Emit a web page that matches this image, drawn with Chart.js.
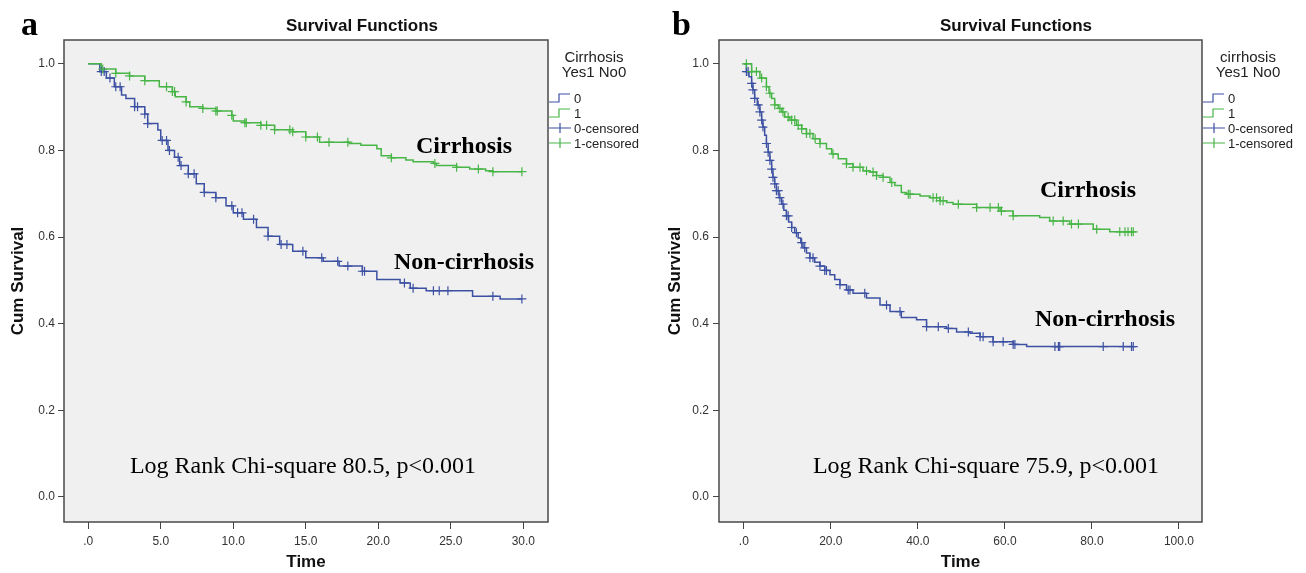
<!DOCTYPE html>
<html>
<head>
<meta charset="utf-8">
<script src="https://cdn.jsdelivr.net/npm/chart.js@4"></script>
<style>
  html, body { margin: 0; padding: 0; background: #fff; }
  #wrap { position: relative; width: 1306px; height: 573px; }
  canvas { position: absolute; top: 0; }
  #chartA { left: 0; }
  #chartB { left: 653px; }
</style>
</head>
<body>
<div id="wrap">
  <canvas id="chartA" width="653" height="573"></canvas>
  <canvas id="chartB" width="653" height="573"></canvas>
</div>
<script>
// ---- panel a (time up to 30) ----
const aCirTime = [0, 0.9, 1.9, 2.85, 3.9, 4.9, 5.8, 6.0, 6.75, 7.0, 7.9, 8.8, 9.9, 10.0, 10.8, 11.9, 12.85, 14.1, 15.0, 15.95, 18.0, 18.8, 19.9, 20.2, 20.9, 21.9, 22.4, 23.8, 24.0, 25.4, 26.3, 27.4, 27.9, 29.9];
const aCirSurv = [1.0, 0.988, 0.978, 0.972, 0.961, 0.947, 0.936, 0.924, 0.912, 0.901, 0.897, 0.891, 0.881, 0.868, 0.864, 0.858, 0.848, 0.843, 0.831, 0.819, 0.816, 0.812, 0.804, 0.788, 0.783, 0.778, 0.774, 0.770, 0.765, 0.761, 0.757, 0.753, 0.751, 0.751];
const aNonTime = [0, 0.8, 1.25, 1.8, 2.3, 2.6, 3.2, 3.9, 4.1, 4.8, 5.0, 5.5, 5.95, 6.3, 6.9, 7.45, 8.0, 8.8, 9.5, 10.0, 10.7, 11.6, 12.4, 13.2, 14.1, 15.0, 16.2, 17.3, 18.9, 19.9, 21.5, 22.2, 23.3, 26.5, 28.4, 29.9];
const aNonSurv = [1.0, 0.982, 0.967, 0.947, 0.928, 0.920, 0.901, 0.884, 0.862, 0.847, 0.823, 0.800, 0.784, 0.765, 0.746, 0.723, 0.703, 0.691, 0.672, 0.656, 0.641, 0.622, 0.602, 0.583, 0.567, 0.552, 0.544, 0.533, 0.521, 0.502, 0.494, 0.482, 0.476, 0.463, 0.457, 0.457];
const aCirCensored = [1.0, 1.9, 2.85, 3.9, 5.4, 5.8, 5.95, 6.75, 7.9, 8.8, 8.9, 9.9, 10.8, 10.9, 11.9, 12.3, 12.85, 13.9, 14.1, 15.0, 15.8, 16.6, 17.9, 20.9, 23.9, 25.4, 26.9, 27.9, 29.9];
const aNonCensored = [0.9, 1.1, 1.5, 1.9, 2.2, 3.2, 3.4, 3.9, 4.1, 5.1, 5.4, 5.6, 6.2, 6.4, 6.9, 7.3, 8.0, 8.8, 9.9, 10.3, 10.6, 11.4, 12.4, 13.3, 13.7, 14.8, 16.1, 17.2, 17.9, 18.9, 19.05, 21.8, 22.4, 23.8, 24.2, 24.8, 27.9, 29.9];

// ---- panel b (time up to 90) ----
const bCirTime = [0, 1.8, 3.7, 5.2, 5.8, 6.4, 7.1, 7.9, 8.7, 9.4, 10.6, 12.1, 13.3, 14.4, 15.9, 17.5, 19.0, 20.2, 21.7, 23.6, 25.1, 27.4, 29.0, 30.5, 32.0, 33.6, 34.7, 36.2, 37.4, 40.5, 42.8, 45.1, 46.6, 48.1, 53.5, 58.9, 61.9, 68.0, 70.3, 74.9, 80.3, 84.1, 89.5];
const bCirSurv = [1.0, 0.982, 0.967, 0.947, 0.932, 0.920, 0.905, 0.897, 0.889, 0.877, 0.870, 0.858, 0.850, 0.839, 0.827, 0.816, 0.804, 0.792, 0.781, 0.769, 0.761, 0.753, 0.750, 0.742, 0.738, 0.726, 0.719, 0.703, 0.699, 0.695, 0.691, 0.684, 0.680, 0.676, 0.668, 0.660, 0.649, 0.645, 0.637, 0.630, 0.618, 0.612, 0.612];
const bNonTime = [0, 0.6, 1.2, 1.8, 2.1, 2.5, 3.1, 3.7, 4.1, 4.4, 4.8, 5.2, 5.6, 6.0, 6.4, 6.7, 7.1, 7.5, 8.1, 8.7, 9.2, 9.8, 10.3, 11.0, 11.7, 12.5, 13.1, 13.6, 14.4, 15.2, 16.3, 17.5, 18.6, 19.8, 20.9, 22.1, 23.6, 25.1, 28.2, 31.3, 33.6, 36.2, 39.7, 42.0, 46.6, 48.9, 52.0, 54.3, 57.3, 61.9, 65.0, 89.5];
const bNonSurv = [1.0, 0.982, 0.970, 0.955, 0.940, 0.920, 0.905, 0.889, 0.870, 0.854, 0.835, 0.816, 0.796, 0.777, 0.757, 0.738, 0.723, 0.707, 0.691, 0.676, 0.662, 0.649, 0.635, 0.622, 0.610, 0.598, 0.587, 0.575, 0.563, 0.552, 0.542, 0.533, 0.523, 0.513, 0.502, 0.490, 0.478, 0.470, 0.459, 0.443, 0.428, 0.414, 0.409, 0.393, 0.389, 0.381, 0.378, 0.370, 0.358, 0.352, 0.347, 0.347];
const bCirCensored = [0.6, 1.8, 2.9, 4.1, 5.2, 6.0, 7.1, 8.3, 9.0, 10.2, 11.0, 11.7, 12.5, 13.3, 14.4, 15.2, 16.4, 17.5, 20.5, 23.6, 25.1, 26.7, 28.2, 29.7, 30.5, 32.0, 34.0, 37.8, 38.2, 43.5, 44.3, 45.1, 45.8, 49.3, 53.5, 56.6, 58.5, 59.2, 61.9, 71.1, 73.4, 75.3, 76.9, 81.1, 86.4, 87.6, 88.3, 89.1, 89.5];
const bNonCensored = [0.6, 1.0, 1.8, 2.1, 2.5, 3.3, 3.7, 4.1, 4.4, 5.2, 5.6, 6.0, 6.4, 6.7, 7.1, 7.5, 7.9, 8.3, 9.0, 9.8, 10.2, 11.0, 12.1, 13.3, 14.0, 15.2, 15.9, 17.5, 18.6, 19.0, 22.1, 24.0, 24.4, 27.8, 32.8, 35.9, 42.0, 44.7, 47.0, 51.6, 54.3, 55.0, 57.3, 59.6, 61.9, 62.3, 71.5, 72.3, 72.6, 82.6, 87.2, 89.1, 89.5];

// ---- ticks / labels ----
const xTicksA = [0, 5, 10, 15, 20, 25, 30];
const xLabelsA = ['.0', '5.0', '10.0', '15.0', '20.0', '25.0', '30.0'];
const xTicksB = [0, 20, 40, 60, 80, 100];
const xLabelsB = ['.0', '20.0', '40.0', '60.0', '80.0', '100.0'];
const yTicks = [0, 0.2, 0.4, 0.6, 0.8, 1.0];
const yLabels = ['0.0', '0.2', '0.4', '0.6', '0.8', '1.0'];
const legendItems = ['0', '1', '0-censored', '1-censored'];

const BLUE = '#3d51a3';
const GREEN = '#48b547';
const SANS = '"Liberation Sans", Arial, sans-serif';
const SERIF = '"Liberation Serif", "Times New Roman", serif';

// value of the KM step curve at time t (censor marks sit on the curve)
function survAt(times, surv, t) {
  let s = surv[0];
  for (let i = 0; i < times.length; i++) {
    if (times[i] <= t) s = surv[i];
  }
  return s;
}
const curve = (times, surv) => times.map((t, i) => ({ x: t, y: surv[i] }));
const marks = (cens, times, surv) => cens.map(t => ({ x: t, y: survAt(times, surv, t) }));

const panelPlugin = {
  id: 'panel',
  beforeDraw(chart) {
    const { ctx, chartArea: a } = chart;
    ctx.save();
    ctx.fillStyle = '#fff';
    ctx.fillRect(0, 0, chart.width, chart.height);
    ctx.fillStyle = '#f0f0f0';
    ctx.fillRect(a.left, a.top, a.right - a.left, a.bottom - a.top);
    ctx.strokeStyle = '#4a4a4a';
    ctx.lineWidth = 1.5;
    ctx.strokeRect(a.left, a.top, a.right - a.left, a.bottom - a.top);
    ctx.restore();
  },
  afterDraw(chart, args, opts) {
    const { ctx, chartArea: a } = chart;
    ctx.save();
    ctx.fillStyle = '#000';
    ctx.textBaseline = 'alphabetic';
    ctx.textAlign = 'left';
    ctx.font = 'bold 34px ' + SERIF;
    ctx.fillText(opts.letter, opts.letterX, 35);

    ctx.textAlign = 'center';
    ctx.textBaseline = 'middle';
    ctx.fillStyle = '#111';
    ctx.font = 'bold 17px ' + SANS;
    ctx.fillText('Survival Functions', opts.titleX, 26);

    // legend
    const lx = a.right + 1;
    ctx.fillStyle = '#222';
    ctx.font = '15px ' + SANS;
    ctx.fillText(opts.legendTitle, a.right + 46, 58);
    ctx.fillText('Yes1 No0', a.right + 46, 73);
    const rows = [98, 113, 128, 143];
    const cols = [BLUE, GREEN, BLUE, GREEN];
    ctx.lineWidth = 1.2;
    rows.forEach((y, i) => {
      ctx.strokeStyle = cols[i];
      ctx.beginPath();
      if (i < 2) {
        ctx.moveTo(lx, y + 4);
        ctx.lineTo(lx + 10, y + 4);
        ctx.lineTo(lx + 10, y - 4);
        ctx.lineTo(lx + 21, y - 4);
      } else {
        ctx.moveTo(lx, y);
        ctx.lineTo(lx + 22, y);
        ctx.moveTo(lx + 11, y - 5);
        ctx.lineTo(lx + 11, y + 5);
      }
      ctx.stroke();
    });
    ctx.fillStyle = '#222';
    ctx.textAlign = 'left';
    ctx.font = '13px ' + SANS;
    legendItems.forEach((t, i) => ctx.fillText(t, lx + 25, rows[i] + 1));

    // annotations inside the plot
    ctx.fillStyle = '#000';
    ctx.textAlign = 'center';
    opts.notes.forEach(n => {
      ctx.font = n.font;
      ctx.fillText(n.text, n.x, n.y);
    });
    ctx.restore();
  }
};

function makeChart(id, cfg) {
  const tickFont = { family: SANS, size: 12 };
  const titleFont = { family: SANS, size: 17, weight: 'bold' };
  return new Chart(document.getElementById(id), {
    type: 'line',
    data: {
      datasets: [
        { label: '1-censored', data: marks(cfg.cirCens, cfg.cirTime, cfg.cirSurv), showLine: false,
          pointStyle: 'cross', pointRadius: 4.5, borderColor: GREEN, borderWidth: 1.2 },
        { label: '0-censored', data: marks(cfg.nonCens, cfg.nonTime, cfg.nonSurv), showLine: false,
          pointStyle: 'cross', pointRadius: 4.5, borderColor: BLUE, borderWidth: 1.2 },
        { label: '1', data: curve(cfg.cirTime, cfg.cirSurv), stepped: true, pointRadius: 0,
          borderColor: GREEN, borderWidth: 1.5, fill: false },
        { label: '0', data: curve(cfg.nonTime, cfg.nonSurv), stepped: true, pointRadius: 0,
          borderColor: BLUE, borderWidth: 1.5, fill: false }
      ]
    },
    options: {
      responsive: false,
      animation: false,
      layout: { padding: { top: 40, right: cfg.padRight, left: 0, bottom: 0 } },
      plugins: {
        legend: { display: false },
        tooltip: { enabled: false },
        panel: cfg.panel
      },
      scales: {
        x: {
          type: 'linear',
          min: cfg.xMin,
          max: cfg.xMax,
          afterBuildTicks: s => { s.ticks = cfg.xTicks.map(v => ({ value: v })); },
          afterFit: s => { s.height = 51; },
          ticks: { callback: (v, i) => cfg.xLabels[i], color: '#333', font: tickFont, padding: 5,
                   maxRotation: 0, autoSkip: false },
          grid: { drawOnChartArea: false, drawTicks: true, tickLength: 7, color: '#444' },
          border: { display: false },
          title: { display: true, text: 'Time', color: '#111', font: titleFont, padding: { top: 0, bottom: 0 } }
        },
        y: {
          type: 'linear',
          min: -0.058,
          max: 1.055,
          afterBuildTicks: s => { s.ticks = yTicks.map(v => ({ value: v })); },
          afterFit: s => { s.width = cfg.yWidth; },
          ticks: { callback: (v, i) => yLabels[i], color: '#333', font: tickFont, padding: cfg.yTickPad },
          grid: { drawOnChartArea: false, drawTicks: true, tickLength: 6, color: '#444' },
          border: { display: false },
          title: { display: true, text: 'Cum Survival', color: '#111', font: titleFont,
                   padding: { top: cfg.yTitlePad, bottom: 0 } }
        }
      }
    },
    plugins: [panelPlugin]
  });
}

makeChart('chartA', {
  cirTime: aCirTime, cirSurv: aCirSurv, cirCens: aCirCensored,
  nonTime: aNonTime, nonSurv: aNonSurv, nonCens: aNonCensored,
  xTicks: xTicksA, xLabels: xLabelsA, xMin: -1.67, xMax: 31.7,
  yWidth: 64, yTitlePad: 8, yTickPad: 3, padRight: 105,
  panel: {
    letter: 'a', letterX: 21, titleX: 362, legendTitle: 'Cirrhosis',
    notes: [
      { text: 'Cirrhosis', x: 464, y: 147, font: 'bold 24px ' + SERIF },
      { text: 'Non-cirrhosis', x: 464, y: 263, font: 'bold 24px ' + SERIF },
      { text: 'Log Rank Chi-square 80.5, p<0.001', x: 303, y: 467, font: '24px ' + SERIF }
    ]
  }
});

makeChart('chartB', {
  cirTime: bCirTime, cirSurv: bCirSurv, cirCens: bCirCensored,
  nonTime: bNonTime, nonSurv: bNonSurv, nonCens: bNonCensored,
  xTicks: xTicksB, xLabels: xLabelsB, xMin: -5.7, xMax: 105.3,
  yWidth: 66, yTitlePad: 12, yTickPad: 4, padRight: 104,
  panel: {
    letter: 'b', letterX: 19, titleX: 363, legendTitle: 'cirrhosis',
    notes: [
      { text: 'Cirrhosis', x: 435, y: 191, font: 'bold 24px ' + SERIF },
      { text: 'Non-cirrhosis', x: 452, y: 320, font: 'bold 24px ' + SERIF },
      { text: 'Log Rank Chi-square 75.9, p<0.001', x: 333, y: 467, font: '24px ' + SERIF }
    ]
  }
});
</script>
</body>
</html>
